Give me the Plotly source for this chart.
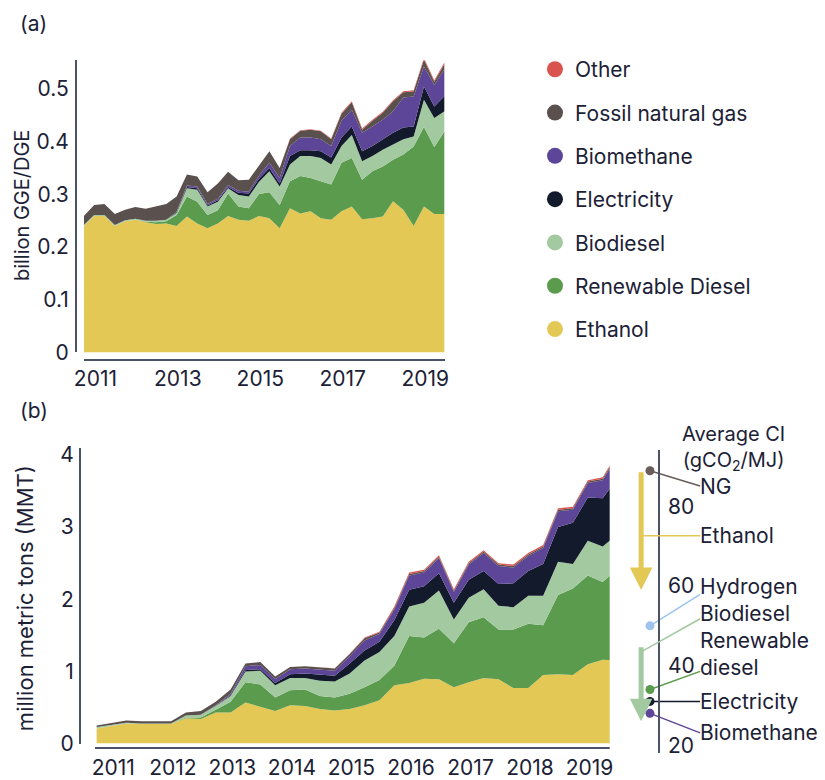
import plotly.graph_objects as go

# the page body adds an 8px margin, so the figure is drawn 8px smaller
# and every layout position below is given in window pixels
OFF = 8
W, H = 825 - OFF, 780 - OFF

# quarterly time axis, 2011 Q1 .. 2019 Q4
years = list(range(2011, 2020))
quarters = [y + q * 0.25 for y in years for q in range(4)]
year_labels = [str(y) for y in years]

fuels = ["Ethanol", "Renewable Diesel", "Biodiesel", "Electricity",
         "Biomethane", "Fossil natural gas", "Other"]
colors = {
    "Ethanol": "#e4c856",
    "Renewable Diesel": "#5b9b4e",
    "Biodiesel": "#a3c9a0",
    "Electricity": "#131a2c",
    "Biomethane": "#5d4597",
    "Fossil natural gas": "#5a504e",
    "Other": "#d9544f",
}

# (a) volumes, billion GGE/DGE
ethanol_gge = [.240, .259, .259, .240, .249, .252, .247, .244, .245, .240, .258, .245,
               .236, .245, .259, .252, .250, .259, .255, .236, .274, .264, .268, .255,
               .252, .268, .277, .253, .255, .258, .287, .271, .240, .277, .263, .263]
renewable_diesel_gge = [0, 0, 0, 0, 0, 0, .001, .003, .004, .021, .038, .041,
                        .025, .025, .043, .025, .024, .042, .049, .044, .051, .071, .063, .070,
                        .067, .092, .092, .075, .089, .095, .079, .105, .151, .151, .127, .157]
biodiesel_gge = [.002, .002, .002, .002, .002, .002, .002, .003, .003, .004, .016, .023,
                 .016, .016, .010, .022, .022, .023, .040, .035, .032, .038, .042, .044,
                 .038, .032, .044, .035, .029, .032, .029, .029, .019, .052, .055, .038]
electricity_gge = [0, 0, 0, 0, 0, 0, 0, 0, 0, .001, .002, .003,
                   .002, .003, .002, .004, .006, .006, .006, .006, .016, .011, .011, .013,
                   .013, .016, .016, .019, .019, .019, .022, .022, .019, .025, .022, .029]
biomethane_gge = [0, 0, 0, 0, 0, 0, 0, 0, 0, .001, .003, .003,
                  .003, .003, .004, .004, .003, .006, .010, .010, .019, .024, .024, .023,
                  .022, .032, .032, .035, .037, .038, .041, .057, .057, .038, .041, .051]
fossil_ng_gge = [.017, .019, .021, .021, .020, .022, .023, .028, .030, .029, .021, .019,
                 .022, .029, .025, .020, .023, .019, .022, .019, .013, .013, .015, .015,
                 .013, .013, .014, .006, .011, .013, .019, .010, .010, .013, .006, .010]
other_gge = [0, 0, 0, 0, 0, 0, 0, 0, 0, 0, 0, 0,
             0, 0, 0, 0, 0, 0, 0, 0, .001, .001, .001, .001,
             .001, .002, .002, .002, .002, .002, .002, .002, .002, .003, .003, .003]

# (b) credits, million metric tons
ethanol_mmt = [.21, .25, .28, .27, .27, .27, .35, .34, .43, .43, .57, .51,
               .45, .53, .52, .48, .46, .48, .53, .60, .81, .84, .90, .89,
               .78, .85, .91, .89, .77, .77, .95, .96, .95, 1.10, 1.16, 1.15]
renewable_diesel_mmt = [0, 0, 0, 0, 0, 0, .01, .02, .04, .15, .28, .31,
                        .19, .21, .23, .18, .18, .21, .25, .28, .27, .65, .57, .70,
                        .61, .83, .84, .69, .81, .89, .69, 1.10, 1.20, 1.23, 1.08, 1.27]
biodiesel_mmt = [.02, .01, .01, .01, .01, .01, .03, .04, .05, .08, .15, .19,
                 .17, .17, .16, .21, .22, .28, .37, .39, .41, .41, .48, .53,
                 .33, .34, .39, .33, .31, .39, .41, .46, .34, .48, .49, .48]
electricity_mmt = [0, 0, 0, 0, 0, 0, 0, 0, .005, .01, .02, .02,
                   .03, .05, .06, .08, .08, .14, .14, .14, .22, .23, .23, .24,
                   .23, .25, .25, .30, .33, .34, .44, .48, .57, .60, .67, .78]
biomethane_mmt = [0, 0, 0, 0, 0, 0, 0, 0, .005, .02, .05, .06,
                  .05, .07, .07, .07, .07, .10, .14, .11, .15, .20, .19, .21,
                  .15, .21, .25, .25, .22, .21, .22, .22, .18, .20, .25, .31]
fossil_ng_mmt = [.02, .03, .03, .03, .03, .03, .04, .05, .05, .06, .04, .04,
                 .04, .03, .03, .03, .03, .03, .03, .02, .02, .02, .02, .02,
                 .02, .02, .02, .02, .02, .02, .02, .02, .02, .02, .02, .02]
other_mmt = [0, 0, 0, 0, 0, 0, 0, 0, 0, 0, 0, 0,
             0, 0, .003, .003, .003, .005, .01, .01, .02, .02, .02, .02,
             .02, .02, .02, .02, .02, .02, .02, .02, .02, .02, .02, .02]

# average carbon intensity, gCO2/MJ
ci_fuels = ["NG", "Hydrogen", "Renewable diesel", "Electricity", "Biomethane"]
ci_values = [89, 50, 34, 31, 28]
ci_colors = ["#6a5d59", "#9dc3ec", "#5b9b4e", "#131a2c", "#5d4597"]
ethanol_ci_range = [89, 59]
biodiesel_ci_range = [45, 26]

series_a = dict(zip(fuels, [ethanol_gge, renewable_diesel_gge, biodiesel_gge,
                            electricity_gge, biomethane_gge, fossil_ng_gge, other_gge]))
series_b = dict(zip(fuels, [ethanol_mmt, renewable_diesel_mmt, biodiesel_mmt,
                            electricity_mmt, biomethane_mmt, fossil_ng_mmt, other_mmt]))

FONT = "Inter"
TXT = "#1c2136"
AX = "#4a5366"


def px(x):
    return (x - OFF) / W


def py(y):
    return 1 - (y - OFF) / H


def ci_at(y):
    # CI value at window row y on the right-hand axis
    return 80 + (513 - y) / 4.077


# x3 spans window pixels 610..825 as 0..1
def cx(x):
    return (x - 610) / 215


fig = go.Figure()

for name in fuels:
    fig.add_trace(go.Scatter(x=quarters, y=series_a[name], name=name, stackgroup="a",
                             mode="lines", line=dict(width=0), fillcolor=colors[name],
                             showlegend=False, xaxis="x", yaxis="y"))
    fig.add_trace(go.Scatter(x=quarters, y=series_b[name], name=name, stackgroup="b",
                             mode="lines", line=dict(width=0), fillcolor=colors[name],
                             showlegend=False, xaxis="x2", yaxis="y2"))

# legend entries as round markers, top to bottom
for name in reversed(fuels):
    fig.add_trace(go.Scatter(x=[None], y=[None], mode="markers", name=name,
                             legendgroup=name,
                             marker=dict(size=20, color=colors[name])))

# CI dots
dot_x = cx(651)
fig.add_trace(go.Scatter(x=[dot_x] * len(ci_values), y=ci_values, mode="markers",
                         marker=dict(size=9, color=ci_colors), showlegend=False,
                         xaxis="x3", yaxis="y3", hoverinfo="text", text=ci_fuels))

axis_common = dict(showgrid=False, zeroline=False, showline=True, linecolor=AX,
                   linewidth=2, ticks="", tickfont=dict(family=FONT, size=21, color=TXT))

fig.update_layout(
    width=W, height=H,
    margin=dict(l=0, r=0, t=0, b=0),
    paper_bgcolor="white", plot_bgcolor="white",
    font=dict(family=FONT, color=TXT),
    showlegend=True,
    legend=dict(x=px(534), y=py(44), xanchor="left", yanchor="top",
                font=dict(family=FONT, size=21, color=TXT),
                tracegroupgap=13, traceorder="grouped", bgcolor="rgba(0,0,0,0)"),
    xaxis=dict(domain=[px(75), px(442)], range=[2011, 2019.75], anchor="free",
               position=py(363), tickmode="array",
               tickvals=[y + 0.28 for y in years[::2]], ticktext=year_labels[::2],
               ticklabelstandoff=0, **axis_common),
    yaxis=dict(domain=[py(355), py(55.3)], range=[0, 0.555], anchor="free",
               position=px(67), tickmode="array", tickvals=[0, .1, .2, .3, .4, .5],
               ticktext=["0", "0.1", "0.2", "0.3", "0.4", "0.5"],
               ticklabelstandoff=2, **axis_common),
    xaxis2=dict(domain=[px(86), px(650)], range=[2010.967, 2020.278], anchor="free",
                position=py(761), tickmode="array",
                tickvals=[y + 0.28 for y in years], ticktext=year_labels,
                ticklabelstandoff=0, **axis_common),
    yaxis2=dict(domain=[py(756), py(453)], range=[0, 4.095], anchor="free",
                position=px(71), tickmode="array", tickvals=[0, 1, 2, 3, 4],
                ticklabelstandoff=1, **axis_common),
    xaxis3=dict(domain=[px(610), 1.0], range=[0, 1], visible=False, anchor="y3"),
    yaxis3=dict(domain=[py(766), py(455)], range=[ci_at(766), ci_at(455)],
                anchor="free", position=px(660), side="right", tickmode="array",
                tickvals=[20, 40, 60, 80], ticklabelstandoff=4, **axis_common),
)

ann = []
ann.append(dict(text="(a)", x=px(8), y=py(18), xref="paper", yref="paper",
                xanchor="left", yanchor="middle", showarrow=False,
                font=dict(size=21, color=TXT)))
ann.append(dict(text="(b)", x=px(8), y=py(414), xref="paper", yref="paper",
                xanchor="left", yanchor="middle", showarrow=False,
                font=dict(size=21, color=TXT)))
ann.append(dict(text="billion GGE/DGE", x=px(12), y=py(204), xref="paper", yref="paper",
                xanchor="center", yanchor="middle",
                textangle=-90, showarrow=False, font=dict(size=20, color=TXT)))
ann.append(dict(text="million metric tons (MMT)", x=px(15), y=py(607), xref="paper",
                yref="paper", xanchor="center", yanchor="middle", textangle=-90,
                showarrow=False, font=dict(size=22, color=TXT)))
ann.append(dict(text="Average CI<br>(gCO<sub>2</sub>/MJ)", x=px(736), y=py(453),
                xref="paper", yref="paper", xanchor="center", yanchor="middle",
                showarrow=False, align="center", font=dict(size=20, color=TXT)))

# CI range arrows
arrow_x = cx(642)
for rng, col in [(ethanol_ci_range, colors["Ethanol"]), (biodiesel_ci_range, colors["Biodiesel"])]:
    ann.append(dict(x=arrow_x, y=rng[1], ax=arrow_x, ay=rng[0], xref="x3", yref="y3",
                    axref="x3", ayref="y3", text="", showarrow=True, arrowhead=2,
                    arrowsize=0.9, arrowwidth=5, arrowcolor=col, standoff=0))

text_x = cx(700)
labels = [("NG", 492), ("Ethanol", 543), ("Hydrogen", 595), ("Biodiesel", 623),
          ("Renewable<br>diesel", 664), ("Electricity", 713), ("Biomethane", 745)]
for txt, yy in labels:
    ann.append(dict(text=txt, x=text_x, y=ci_at(yy), xref="x3", yref="y3", xanchor="left",
                    yanchor="middle", showarrow=False, align="left",
                    font=dict(size=21, color=TXT)))
fig.update_layout(annotations=ann)

# leader lines from dots / arrows to the labels
line_end_x = cx(702)
leader_ends = {"NG": ci_at(492), "Hydrogen": ci_at(603), "Renewable diesel": ci_at(682),
               "Electricity": ci_values[3], "Biomethane": ci_at(745)}
shapes = []
for name, val, col in zip(ci_fuels, ci_values, ci_colors):
    shapes.append(dict(type="line", xref="x3", yref="y3", x0=dot_x, y0=val,
                       x1=line_end_x, y1=leader_ends[name], line=dict(color=col, width=1.5),
                       layer="below"))
shapes.append(dict(type="line", xref="x3", yref="y3", x0=arrow_x, y0=ci_at(543),
                   x1=line_end_x, y1=ci_at(543), line=dict(color=colors["Ethanol"], width=1.5)))
shapes.append(dict(type="line", xref="x3", yref="y3", x0=arrow_x, y0=ci_at(662),
                   x1=line_end_x, y1=ci_at(628), line=dict(color=colors["Biodiesel"], width=1.5)))
fig.update_layout(shapes=shapes)

fig.write_html("out.html")
